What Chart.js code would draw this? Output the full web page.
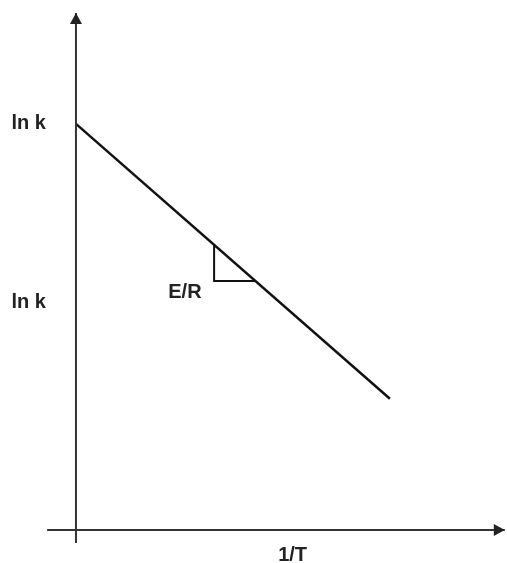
<!DOCTYPE html>
<html>
<head>
<meta charset="utf-8">
<script src="https://cdn.jsdelivr.net/npm/chart.js@4/dist/chart.umd.min.js"></script>
<style>
  html, body { margin: 0; padding: 0; background: #fff; }
  #wrap { width: 507px; height: 563px; position: relative; }
</style>
</head>
<body>
<div id="wrap"><canvas id="arrhenius"></canvas></div>
<script>
// Arrhenius plot: ln k against 1/T
const lineX = [0, 10];
const lineLnK = [10, 3.23];

// slope triangle under the line
const slopeX = [4.4, 4.4, 5.72];
const slopeY = [7.02, 6.13, 6.13];

// axis extents
const xAxisRange = [-0.92, 13.66];
const yAxisRange = [-0.32, 12.73];

const yLabels = ['ln k', 'ln k'];
const yLabelValues = [10, 5.6];
const xTitle = '1/T';
const xTitleValue = 6.9;
const slopeLabel = 'E/R';
const slopeLabelAt = [3.47, 5.86];

const FONT = 'bold 20px "Liberation Sans", Arial, sans-serif';

const pts = (xs, ys) => xs.map((x, i) => ({ x: x, y: ys[i] }));

const annotations = {
    id: 'annotations',
    afterDatasetsDraw(chart) {
        const ctx = chart.ctx;
        const sx = chart.scales.x, sy = chart.scales.y;
        const ox = sx.getPixelForValue(0), oy = sy.getPixelForValue(0);

        ctx.save();
        ctx.fillStyle = '#222';

        // arrow heads
        const top = sy.getPixelForValue(yAxisRange[1]);
        ctx.beginPath();
        ctx.moveTo(ox, top);
        ctx.lineTo(ox - 6, top + 11);
        ctx.lineTo(ox + 6, top + 11);
        ctx.closePath();
        ctx.fill();

        const right = sx.getPixelForValue(xAxisRange[1]);
        ctx.beginPath();
        ctx.moveTo(right, oy);
        ctx.lineTo(right - 11, oy - 6);
        ctx.lineTo(right - 11, oy + 6);
        ctx.closePath();
        ctx.fill();

        // text
        ctx.font = FONT;
        ctx.textBaseline = 'middle';
        ctx.textAlign = 'right';
        yLabels.forEach((t, i) => {
            ctx.fillText(t, ox - 30, sy.getPixelForValue(yLabelValues[i]));
        });
        ctx.textAlign = 'center';
        ctx.fillText(slopeLabel, sx.getPixelForValue(slopeLabelAt[0]), sy.getPixelForValue(slopeLabelAt[1]));
        ctx.fillText(xTitle, sx.getPixelForValue(xTitleValue), oy + 26);
        ctx.restore();
    }
};

new Chart(document.getElementById('arrhenius').getContext('2d'), {
    type: 'scatter',
    data: {
        datasets: [
            {
                data: pts([0, 0], yAxisRange),
                showLine: true,
                borderColor: '#333',
                borderWidth: 2,
                pointRadius: 0
            },
            {
                data: pts(xAxisRange, [0, 0]),
                showLine: true,
                borderColor: '#333',
                borderWidth: 2,
                pointRadius: 0
            },
            {
                data: pts(lineX, lineLnK),
                showLine: true,
                borderColor: '#111',
                borderWidth: 2.5,
                pointRadius: 0
            },
            {
                data: pts(slopeX, slopeY),
                showLine: true,
                borderColor: '#111',
                borderWidth: 2,
                pointRadius: 0
            }
        ]
    },
    options: {
        responsive: true,
        maintainAspectRatio: false,
        animation: false,
        layout: { padding: 0, autoPadding: false },
        plugins: {
            legend: { display: false },
            tooltip: { enabled: false }
        },
        scales: {
            x: { type: 'linear', min: -2.42, max: 13.73, display: false },
            y: { type: 'linear', min: -0.813, max: 13.05, display: false }
        }
    },
    plugins: [annotations]
});
</script>
</body>
</html>
